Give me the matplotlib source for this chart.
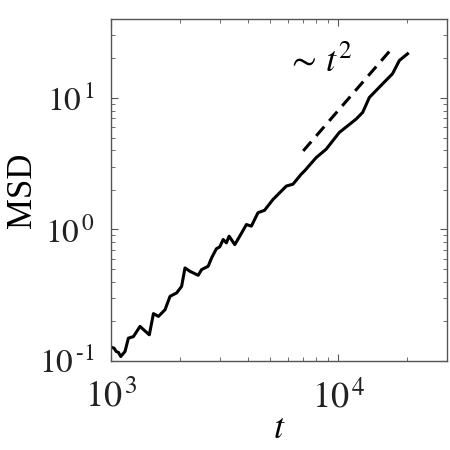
import numpy as np
import matplotlib
matplotlib.use('Agg')
import matplotlib.pyplot as plt
from matplotlib.ticker import NullFormatter

plt.rcParams['font.family'] = 'serif'
plt.rcParams['font.serif'] = ['Liberation Serif', 'DejaVu Serif']
plt.rcParams['mathtext.fontset'] = 'stix'

# MSD curve (t, MSD)
t = [1000, 1030, 1052, 1077, 1102, 1151, 1191, 1253, 1340, 1409, 1472, 1535,
     1614, 1726, 1816, 1941, 2042, 2113, 2218, 2415, 2500, 2673, 2767, 2904,
     3006, 3112, 3214, 3304, 3499, 3681, 3936, 4140, 4426, 4732, 5152, 5902,
     6310, 6855, 7096, 7980, 8831, 10090, 11970, 12790, 13680, 15630, 17300,
     18540, 20140]
msd = [0.127, 0.125, 0.118, 0.116, 0.108, 0.118, 0.149, 0.153, 0.183, 0.169,
       0.158, 0.229, 0.218, 0.245, 0.310, 0.329, 0.369, 0.510, 0.481, 0.448,
       0.495, 0.525, 0.608, 0.713, 0.738, 0.839, 0.791, 0.889, 0.767, 0.889,
       1.09, 1.06, 1.34, 1.40, 1.69, 2.14, 2.21, 2.63, 2.79, 3.52, 4.08, 5.47,
       6.92, 7.78, 10.1, 12.8, 15.3, 19.3, 21.7]

# guide line ~ t^2
guide_t = [7000, 17400]
guide_msd = [3.96, 24.4]

xticks = [1e3, 1e4]
xticklabels = [r'$10^{\,3}$', r'$10^{\,4}$']
yticks = [0.1, 1, 10]
yticklabels = [r'$10^{\,\text{-}1}$', r'$10^{\,0}$', r'$10^{\,1}$']

fig = plt.figure(figsize=(4.5, 4.5), dpi=100)
ax = fig.add_axes([0.247, 0.198, 0.746, 0.76])

ax.plot(t, msd, color='black', lw=2.2)
ax.plot(guide_t, guide_msd, color='black', lw=2.2, ls=(0, (4, 2.5)))
ax.text(5900, 15.8, r'$\sim\, t^{2}$', fontsize=26, ha='left', va='baseline')

ax.set_xscale('log')
ax.set_yscale('log')
ax.set_xlim(1e3, 3e4)
ax.set_ylim(0.1, 40)
ax.set_xticks(xticks, xticklabels)
ax.set_yticks(yticks, yticklabels)
ax.xaxis.set_minor_formatter(NullFormatter())
ax.yaxis.set_minor_formatter(NullFormatter())

for s in ax.spines.values():
    s.set_color('#555555')
    s.set_linewidth(1.0)
ax.tick_params(which='both', direction='in', top=True, right=True, colors='#555555')
ax.tick_params(which='major', length=5)
ax.tick_params(which='minor', length=3)
ax.tick_params(axis='x', labelsize=26, labelcolor='#222222', pad=14)
ax.tick_params(axis='y', labelsize=24, labelcolor='#222222', pad=12)

ax.set_xlabel(r'$t$', fontsize=26, labelpad=-2)
ax.set_ylabel('MSD', fontsize=25, va='center')
ax.yaxis.set_label_coords(-0.265, 0.5)

fig.savefig('out.png', dpi=100)
